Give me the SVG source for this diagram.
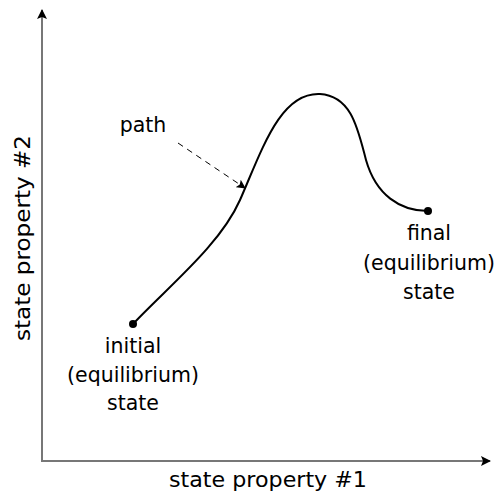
<svg xmlns="http://www.w3.org/2000/svg" width="499" height="494" viewBox="0 0 499 494">
<style>
text{font-family:"DejaVu Sans","Noto Sans",sans-serif;font-size:20.5px;fill:#000;text-anchor:middle}
.axis{stroke:#777;stroke-width:2;fill:none}
</style>
<defs>
<marker id="ah" viewBox="0 0 10 10" refX="9" refY="5" markerWidth="10" markerHeight="10" markerUnits="userSpaceOnUse" orient="auto"><path d="M0,0 L10,5 L0,10 L2,5 Z" fill="#000"/></marker>
<marker id="ah2" viewBox="0 0 10 10" refX="9" refY="5" markerWidth="9" markerHeight="9" markerUnits="userSpaceOnUse" orient="auto"><path d="M0,0 L10,5 L0,10 L2,5 Z" fill="#000"/></marker>
</defs>
<g id="axes">
<line class="axis" x1="42" y1="461" x2="42" y2="10" marker-end="url(#ah)"/>
<line class="axis" x1="41" y1="461" x2="490" y2="461" marker-end="url(#ah)"/>
<text x="268" y="487" textLength="198" lengthAdjust="spacingAndGlyphs">state property #1</text>
<text transform="translate(30,238) rotate(-90)" textLength="206" lengthAdjust="spacingAndGlyphs">state property #2</text>
</g>
<g id="connectors">
<path d="M133,324 C170,285 220,245 240,200 C262,150 280,92 320,94 C352,96 358,130 366,160 C376,195 400,211 428,211" fill="none" stroke="#000" stroke-width="2"/>
<line x1="178" y1="143" x2="245" y2="188" stroke="#000" stroke-width="1" stroke-dasharray="6,5" marker-end="url(#ah2)"/>
</g>
<g id="initial">
<circle cx="133" cy="324" r="4" fill="#000"/>
<text x="133" y="353">initial</text>
<text x="133" y="382">(equilibrium)</text>
<text x="133" y="410">state</text>
</g>
<g id="final">
<circle cx="428" cy="211" r="4" fill="#000"/>
<text x="429" y="240">final</text>
<text x="429" y="270">(equilibrium)</text>
<text x="429" y="299">state</text>
</g>
<g id="path-label">
<text x="143" y="132">path</text>
</g>
</svg>
